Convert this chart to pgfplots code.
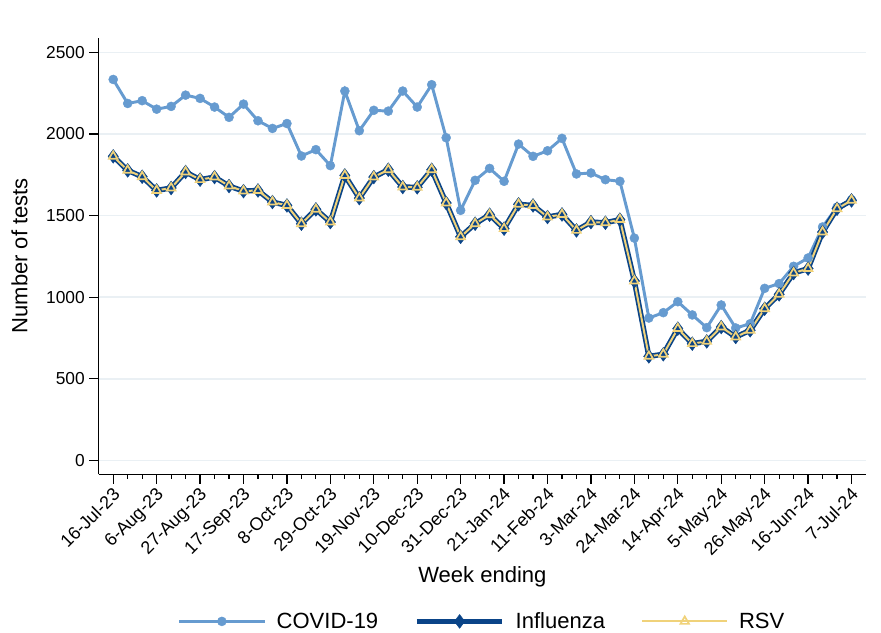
\documentclass[border=0pt]{standalone}
\usepackage{fontspec}
\setmainfont{Liberation Sans}
\usepackage{pgfplots}
\pgfplotsset{compat=1.18}
\usepackage{pgfplotstable}
\usetikzlibrary{calc}
\definecolor{covid}{RGB}{102,155,208}
\definecolor{flu}{RGB}{10,68,136}
\definecolor{rsv}{RGB}{240,210,122}
\definecolor{gridc}{RGB}{234,240,244}

\pgfplotstableread{
x y
0 2334
1 2187
2 2204
3 2152
4 2169
5 2238
6 2218
7 2165
8 2102
9 2183
10 2081
11 2034
12 2064
13 1865
14 1904
15 1806
16 2263
17 2020
18 2145
19 2140
20 2263
21 2165
22 2302
23 1977
24 1532
25 1716
26 1789
27 1710
28 1938
29 1863
30 1897
31 1973
32 1755
33 1761
34 1720
35 1710
36 1362
37 872
38 905
39 972
40 891
41 813
42 952
43 811
44 837
45 1054
46 1083
47 1189
48 1240
49 1430
50 1552
51 1597
}\covid

\pgfplotstableread{
x y
0 1863
1 1777
2 1738
3 1654
4 1669
5 1767
6 1720
7 1736
8 1681
9 1650
10 1654
11 1583
12 1562
13 1450
14 1538
15 1460
16 1746
17 1607
18 1736
19 1781
20 1675
21 1673
22 1781
23 1577
24 1370
25 1450
26 1505
27 1420
28 1569
29 1562
30 1491
31 1507
32 1409
33 1460
34 1456
35 1475
36 1099
37 637
38 650
39 807
40 715
41 729
42 817
43 756
44 797
45 929
46 1017
47 1148
48 1175
49 1399
50 1542
51 1593
}\flu

\pgfplotstableread{
x y
0 1863
1 1777
2 1738
3 1654
4 1669
5 1767
6 1720
7 1736
8 1681
9 1650
10 1654
11 1583
12 1562
13 1450
14 1538
15 1460
16 1746
17 1607
18 1736
19 1781
20 1675
21 1673
22 1781
23 1577
24 1370
25 1450
26 1505
27 1420
28 1569
29 1562
30 1491
31 1507
32 1409
33 1460
34 1456
35 1475
36 1099
37 637
38 650
39 807
40 715
41 729
42 817
43 756
44 797
45 929
46 1017
47 1148
48 1175
49 1399
50 1542
51 1593
}\rsv

\begin{document}
\begin{tikzpicture}
\begin{axis}[
  width=575bp, height=327bp, scale only axis,
  xmin=-1, xmax=52, ymin=-86, ymax=2588,
  axis x line*=bottom, axis y line*=left,
  axis line style={-, line width=1bp, black},
  xtick={0,3,...,51},
  xticklabels={16-Jul-23,6-Aug-23,27-Aug-23,17-Sep-23,8-Oct-23,29-Oct-23,19-Nov-23,10-Dec-23,31-Dec-23,21-Jan-24,11-Feb-24,3-Mar-24,24-Mar-24,14-Apr-24,5-May-24,26-May-24,16-Jun-24,7-Jul-24},
  minor x tick num=2,
  ytick={0,500,...,2500},
  tick align=outside,
  major tick length=7bp, minor tick length=3.2bp,
  tick style={black, line width=0.9bp},
  ymajorgrids, grid style={gridc, line width=1.2bp},
  xticklabel style={rotate=45, anchor=north east, inner sep=0.6bp, xshift=-1.5bp, font=\fontsize{13.5bp}{15bp}\selectfont},
  yticklabel style={font=\fontsize{13bp}{15bp}\selectfont},
  /pgf/number format/assume math mode=true,
  /pgf/number format/1000 sep={},
  xlabel={Week ending}, ylabel={Number of tests},
  label style={font=\fontsize{16.5bp}{19bp}\selectfont},
  xlabel style={at={(axis description cs:0.5,-0.247)}, anchor=base},
  ylabel style={at={(axis description cs:-0.0931,0.501)}, anchor=base},
  legend columns=3,
  legend style={at={(axis description cs:0.5,-0.337)}, anchor=center, draw=none, fill=none,
    font=\fontsize{16.5bp}{19bp}\selectfont,
    /tikz/every odd column/.append style={column sep=6bp},
    /tikz/every even column/.append style={column sep=25bp}},
  legend cell align=left,
  legend image code/.code={\draw[mark repeat=2,mark phase=2,#1] plot coordinates {(0bp,0bp) (32bp,0bp) (64bp,0bp)};},
]
\coordinate (SW) at (rel axis cs:0,0);
\coordinate (NE) at (rel axis cs:1,1);
\addplot[covid, line width=2.2bp, mark=*, mark size=3.4bp, mark options={solid, line width=0.3bp}] table[x=x,y=y] {\covid};
\addlegendentry{COVID-19}
\addplot[flu, line width=4bp, mark=diamond*, mark size=5.2bp, mark options={solid, line width=0.3bp}] table[x=x,y=y] {\flu};
\addlegendentry{Influenza}
\addplot[rsv, line width=1.5bp, mark=triangle, mark size=3.7bp, mark options={solid, line width=1.3bp}] table[x=x,y=y] {\rsv};
\addlegendentry{RSV}
\end{axis}
\pgfresetboundingbox
\path ($(SW)+(-74bp,-118.5bp)$) rectangle ($(NE)+(11.25bp,28.5bp)$);
\end{tikzpicture}
\end{document}
